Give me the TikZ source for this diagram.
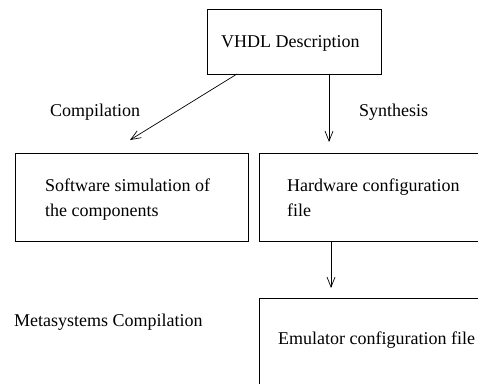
\documentclass[tikz,border=0pt]{standalone}
\usepackage{fontspec}
\setmainfont{Liberation Serif}
\usetikzlibrary{arrows.meta}
\begin{document}
\begin{tikzpicture}[x=1pt,y=-1pt,
  box/.style={draw, line width=0.8pt, inner sep=0pt, outer sep=0pt, anchor=north west},
  lbl/.style={anchor=base west, inner sep=0pt, font=\fontsize{18}{22}\selectfont},
  flow/.style={-{Straight Barb[length=10pt,width=8pt]}, line width=0.7pt}]
\useasboundingbox (0,0) rectangle (478,383);
\clip (0,0) rectangle (478,383);
% boxes
\node[box, minimum width=174pt, minimum height=65pt] (vhdl) at (207,9) {};
\node[box, minimum width=233pt, minimum height=88pt] (sw) at (15,153) {};
\node[box, minimum width=260pt, minimum height=88pt] (hw) at (259,153) {};
\node[box, minimum width=260pt, minimum height=120pt] (emu) at (259,298) {};
% texts
\node[lbl] (t1) at (221,47) {VHDL Description};
\node[lbl] (t2) at (50,116) {Compilation};
\node[lbl] (t3) at (359,116) {Synthesis};
\node[lbl] (t4) at (45,191) {Software simulation of};
\node[lbl] (t5) at (45,216) {the components};
\node[lbl] (t6) at (287,191) {Hardware configuration};
\node[lbl] (t7) at (287,216) {file};
\node[lbl] (t8) at (14,326) {Metasystems Compilation};
\node[lbl] (t9) at (278,344) {Emulator configuration file};
% connectors
\coordinate (c1) at (130,140);
\coordinate (s1) at (329,142);
\coordinate (e1) at (331,288);
\draw[flow] ([xshift=30pt]vhdl.south west) -- (c1);
\draw[flow] (s1 |- vhdl.south) -- (s1);
\draw[flow] (e1 |- hw.south) -- (e1);
\end{tikzpicture}
\end{document}
